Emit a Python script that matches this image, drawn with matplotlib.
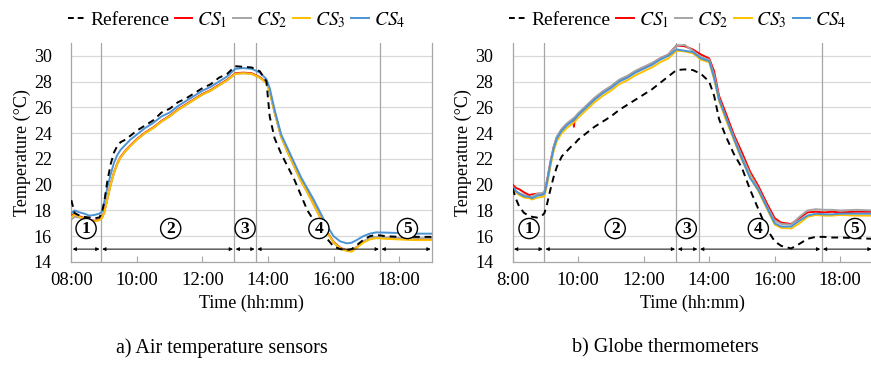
import matplotlib
matplotlib.use("Agg")
import matplotlib.pyplot as plt
from matplotlib.lines import Line2D

plt.rcParams['font.family'] = ['Liberation Serif', 'DejaVu Serif']
plt.rcParams['mathtext.fontset'] = 'stix'

# ---- data (time in decimal hours) ----
t_air = [8.0, 8.1, 8.25, 8.4, 8.55, 8.7, 8.85, 8.93, 9.0, 9.1, 9.2, 9.3, 9.4, 9.5, 9.65, 9.8,
         10.0, 10.25, 10.5, 10.75, 11.0, 11.25, 11.5, 11.75, 12.0, 12.25, 12.5, 12.75,
         13.0, 13.25, 13.5, 13.75, 13.95, 14.05, 14.2, 14.4, 14.6, 14.8, 15.0, 15.2, 15.4,
         15.6, 15.8, 16.0, 16.2, 16.4, 16.55, 16.7, 16.9, 17.1, 17.3, 17.6, 18.0, 18.5, 19.0]
air_ref = [18.8, 17.8, 17.6, 17.5, 17.45, 17.4, 17.45, 17.8, 18.6, 20.3, 21.6, 22.5, 23.0, 23.3, 23.5, 23.8,
           24.2, 24.6, 25.0, 25.6, 25.9, 26.4, 26.7, 27.1, 27.5, 27.8, 28.3, 28.6,
           29.2, 29.15, 29.1, 28.8, 28.0, 25.3, 23.6, 22.4, 21.4, 20.4, 19.2, 18.0, 17.2,
           16.5, 15.8, 15.2, 15.0, 14.93, 15.0, 15.3, 15.7, 16.0, 16.1, 16.0, 15.95, 15.95, 15.95]
air_cs1 = [17.6, 17.75, 17.55, 17.4, 17.25, 17.2, 17.3, 17.45, 17.85, 18.95, 20.05, 20.95, 21.65, 22.15, 22.65, 23.05,
           23.55, 24.05, 24.45, 24.95, 25.35, 25.85, 26.25, 26.65, 27.05, 27.35, 27.75, 28.15,
           28.65, 28.7, 28.65, 28.35, 27.95, 27.25, 25.65, 23.75, 22.55, 21.45, 20.35, 19.45, 18.45,
           17.45, 16.35, 15.55, 15.1, 14.9, 14.85, 15.15, 15.55, 15.8, 15.9, 15.85, 15.8, 15.75, 15.75]
air_cs2 = [17.3, 17.5, 17.45, 17.3, 17.2, 17.15, 17.25, 17.4, 17.8, 18.9, 20.0, 20.9, 21.6, 22.1, 22.6, 23.0,
           23.5, 24.0, 24.4, 24.9, 25.3, 25.8, 26.2, 26.6, 27.0, 27.3, 27.7, 28.1,
           28.6, 28.65, 28.6, 28.3, 27.9, 27.2, 25.6, 23.7, 22.5, 21.4, 20.3, 19.4, 18.4,
           17.4, 16.3, 15.5, 15.05, 14.9, 14.85, 15.15, 15.6, 15.85, 15.95, 15.9, 15.85, 15.85, 15.85]
air_cs3 = [17.5, 17.7, 17.5, 17.35, 17.2, 17.15, 17.25, 17.4, 17.8, 18.9, 20.0, 20.9, 21.6, 22.1, 22.6, 23.0,
           23.5, 24.0, 24.4, 24.9, 25.3, 25.8, 26.2, 26.6, 27.0, 27.3, 27.7, 28.1,
           28.6, 28.65, 28.6, 28.3, 27.9, 27.2, 25.6, 23.7, 22.5, 21.4, 20.3, 19.4, 18.4,
           17.4, 16.3, 15.5, 15.05, 14.85, 14.8, 15.1, 15.5, 15.75, 15.85, 15.8, 15.75, 15.7, 15.7]
air_cs4 = [17.8, 18.0, 17.85, 17.75, 17.6, 17.65, 17.75, 17.9, 18.6, 19.8, 20.8, 21.7, 22.3, 22.7, 23.1, 23.5,
           23.9, 24.4, 24.8, 25.3, 25.6, 26.1, 26.5, 26.9, 27.3, 27.6, 28.0, 28.4,
           29.0, 29.05, 29.0, 28.7, 28.2, 27.5, 25.8, 23.9, 22.8, 21.7, 20.6, 19.7, 18.8,
           17.8, 16.8, 16.0, 15.6, 15.45, 15.5, 15.7, 16.0, 16.2, 16.3, 16.28, 16.25, 16.2, 16.2]

t_glb = [8.0, 8.1, 8.2, 8.35, 8.5, 8.6, 8.75, 8.9, 8.97, 9.05, 9.15, 9.25, 9.35, 9.5, 9.65, 9.8,
         9.85, 9.87, 9.9, 10.0, 10.25, 10.5, 10.75, 11.0, 11.25, 11.5, 11.75, 12.0, 12.25, 12.5,
         12.75, 13.0, 13.25, 13.5, 13.75, 14.0, 14.15, 14.3, 14.5, 14.75, 15.0, 15.25, 15.5,
         15.75, 16.0, 16.2, 16.5, 16.75, 17.0, 17.25, 17.5, 17.75, 18.0, 18.5, 19.0]
glb_ref = [19.7, 18.9, 18.3, 17.8, 17.6, 17.5, 17.45, 17.6, 17.8, 18.5, 19.6, 20.6, 21.4, 22.2, 22.6, 23.0,
           23.1, 23.15, 23.2, 23.5, 24.0, 24.5, 24.9, 25.3, 25.8, 26.2, 26.6, 27.0, 27.4, 27.9,
           28.4, 28.9, 28.95, 28.9, 28.6, 28.0, 26.9, 25.1, 23.8, 22.4, 21.3, 19.6, 18.1,
           16.6, 15.6, 15.25, 15.05, 15.4, 15.8, 15.95, 15.95, 15.9, 15.9, 15.85, 15.8]
glb_cs1 = [20.0, 19.75, 19.65, 19.4, 19.2, 19.25, 19.3, 19.3, 19.4, 20.3, 21.7, 22.9, 23.7, 24.3, 24.7, 25.0,
           25.1, 24.5, 25.2, 25.5, 26.1, 26.7, 27.2, 27.6, 28.1, 28.4, 28.8, 29.1, 29.4, 29.8,
           30.1, 30.8, 30.75, 30.5, 30.1, 29.8, 28.8, 26.9, 25.6, 23.9, 22.5, 21.0, 19.9,
           18.6, 17.4, 17.05, 16.95, 17.4, 17.85, 17.9, 17.85, 17.9, 17.85, 17.9, 17.9]
glb_cs2 = [19.7, 19.5, 19.35, 19.2, 19.05, 19.1, 19.3, 19.35, 19.45, 20.35, 21.75, 22.95, 23.75, 24.35, 24.75, 25.05,
           25.15, 25.2, 25.25, 25.55, 26.15, 26.75, 27.25, 27.65, 28.15, 28.45, 28.85, 29.15, 29.45, 29.8,
           30.1, 30.8, 30.85, 30.4, 29.9, 29.7, 28.5, 26.7, 25.3, 23.7, 22.2, 20.8, 19.7,
           18.4, 17.2, 16.95, 16.9, 17.5, 18.0, 18.1, 18.05, 18.05, 18.0, 18.05, 18.0]
glb_cs3 = [19.7, 19.4, 19.2, 19.0, 18.95, 18.85, 19.0, 19.05, 19.1, 20.0, 21.4, 22.6, 23.4, 24.0, 24.4, 24.7,
           24.8, 24.85, 24.9, 25.2, 25.8, 26.4, 26.9, 27.3, 27.8, 28.1, 28.5, 28.8, 29.1, 29.5,
           29.8, 30.4, 30.35, 30.2, 29.7, 29.5, 28.2, 26.5, 25.1, 23.5, 21.9, 20.6, 19.5,
           18.2, 16.9, 16.65, 16.6, 17.0, 17.5, 17.65, 17.6, 17.6, 17.65, 17.6, 17.6]
glb_cs4 = [19.85, 19.5, 19.3, 19.1, 19.05, 18.95, 19.15, 19.2, 19.3, 20.2, 21.6, 22.8, 23.6, 24.2, 24.6, 24.9,
           25.0, 25.05, 25.1, 25.4, 26.0, 26.6, 27.1, 27.5, 28.0, 28.3, 28.7, 29.0, 29.3, 29.7,
           30.0, 30.5, 30.4, 30.3, 29.8, 29.6, 28.3, 26.6, 25.3, 23.6, 22.0, 20.5, 19.6,
           18.3, 17.0, 16.75, 16.75, 17.2, 17.6, 17.75, 17.7, 17.7, 17.75, 17.75, 17.75]

air_bounds = [8.0, 8.9, 12.97, 13.63, 17.42, 19.0]
glb_bounds = [8.0, 8.96, 13.0, 13.68, 17.43, 19.0]
air_labels_x = [8.45, 11.03, 13.3, 15.55, 18.25]
glb_labels_x = [8.5, 11.13, 13.3, 15.5, 18.45]
phase_labels = ['1', '2', '3', '4', '5']

hours = [8, 10, 12, 14, 16, 18]
air_ticks = ['08:00', '10:00', '12:00', '14:00', '16:00', '18:00']
glb_ticks = ['8:00', '10:00', '12:00', '14:00', '16:00', '18:00']

colors = {'ref': 'black', 'cs1': '#FF0000', 'cs2': '#A5A5A5', 'cs3': '#FFC000', 'cs4': '#4A94D6'}

fig = plt.figure(figsize=(8.71, 3.65), dpi=100)
ax1 = fig.add_axes([0.0819, 0.2822, 0.4141, 0.6])
ax2 = fig.add_axes([0.5886, 0.2822, 0.4137, 0.6])


def draw(ax, t, ref, cs1, cs2, cs3, cs4, bounds, lab_x, ticklabels):
    ax.set_xlim(8, 19)
    ax.set_ylim(14, 31)
    for y in range(16, 31, 2):
        ax.axhline(y, color='#d9d9d9', lw=0.9, zorder=0)
    for b in bounds[1:-1]:
        ax.axvline(b, color='#a6a6a6', lw=0.9, zorder=1)
    ax.plot(t, cs1, color=colors['cs1'], lw=1.4, zorder=3)
    ax.plot(t, cs2, color=colors['cs2'], lw=1.4, zorder=3)
    ax.plot(t, cs3, color=colors['cs3'], lw=1.4, zorder=3)
    ax.plot(t, cs4, color=colors['cs4'], lw=1.4, zorder=3)
    ax.plot(t, ref, color=colors['ref'], lw=1.4, ls=(0, (3.5, 2.5)), zorder=4)
    for a, b in zip(bounds[:-1], bounds[1:]):
        ax.annotate('', xy=(b - 0.04, 15), xytext=(a + 0.04, 15),
                    arrowprops=dict(arrowstyle='<|-|>', mutation_scale=5, lw=0.7,
                                    color='black', shrinkA=0, shrinkB=0), zorder=5)
    for x, s in zip(lab_x, phase_labels):
        ax.text(x, 16.6, s, ha='center', va='center', fontsize=12.5, fontweight='bold',
                bbox=dict(boxstyle='circle,pad=0.12', fc='white', ec='black', lw=1.0), zorder=6)
    for side in ['left', 'bottom', 'right']:
        ax.spines[side].set_color('#a6a6a6')
        ax.spines[side].set_linewidth(0.9)
    ax.spines['top'].set_visible(False)
    ax.set_xticks(hours)
    ax.set_xticklabels(ticklabels)
    ax.set_yticks(range(14, 31, 2))
    ax.tick_params(axis='x', direction='in', length=4, color='#a6a6a6', labelsize=13.5, pad=7)
    ax.tick_params(axis='y', length=0, labelsize=13, pad=14)
    ax.set_xlabel('Time (hh:mm)', fontsize=13, labelpad=4)
    ax.set_ylabel('Temperature (°C)', fontsize=13, labelpad=2)
    handles = [Line2D([], [], color=colors['ref'], lw=1.4, ls=(0, (3, 2))),
               Line2D([], [], color=colors['cs1'], lw=1.4),
               Line2D([], [], color=colors['cs2'], lw=1.4),
               Line2D([], [], color=colors['cs3'], lw=1.4),
               Line2D([], [], color=colors['cs4'], lw=1.4)]
    names = ['Reference', '$CS_1$', '$CS_2$', '$CS_3$', '$CS_4$']
    ax.legend(handles, names, loc='lower left', bbox_to_anchor=(-0.01, 1.06), ncol=5,
              frameon=False, fontsize=14, handlelength=0.9, handletextpad=0.25,
              columnspacing=0.3, borderaxespad=0, borderpad=0)


draw(ax1, t_air, air_ref, air_cs1, air_cs2, air_cs3, air_cs4, air_bounds, air_labels_x, air_ticks)
draw(ax2, t_glb, glb_ref, glb_cs1, glb_cs2, glb_cs3, glb_cs4, glb_bounds, glb_labels_x, glb_ticks)

fig.text(222 / 871, 1 - 348 / 365, 'a) Air temperature sensors', ha='center', va='center', fontsize=14.5)
fig.text(665 / 871, 1 - 348 / 365, 'b) Globe thermometers', ha='center', va='center', fontsize=14.5)

fig.savefig('out.png', dpi=100)
